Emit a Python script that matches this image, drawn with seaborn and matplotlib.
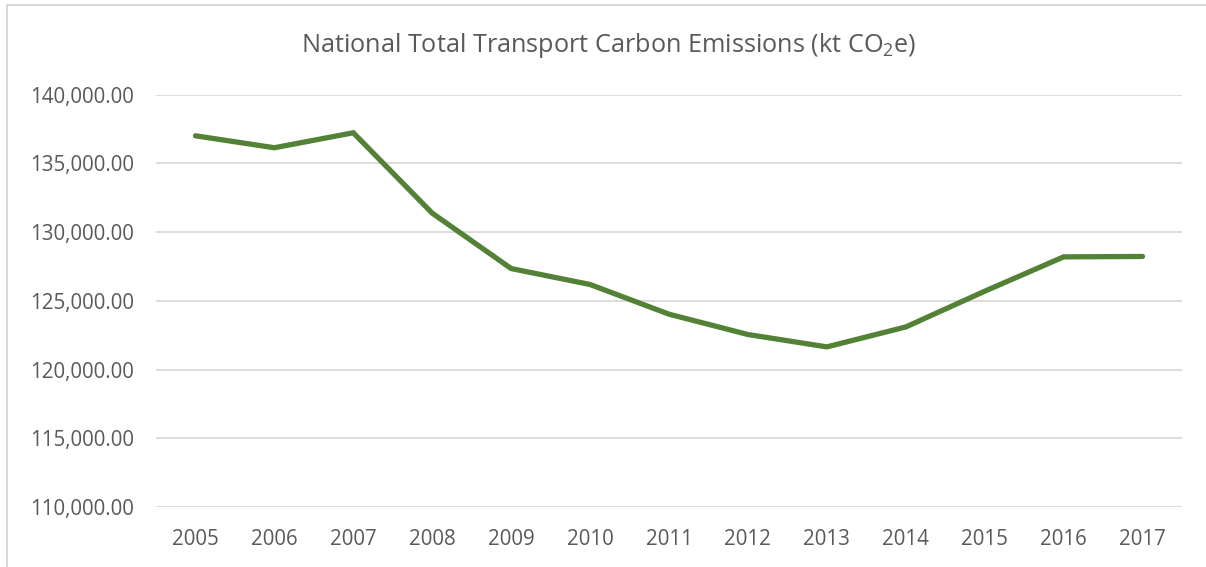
import matplotlib
matplotlib.use("Agg")
import matplotlib.pyplot as plt
import seaborn as sns
import pandas as pd
from matplotlib.ticker import FuncFormatter
from matplotlib.lines import Line2D

years = ["2005", "2006", "2007", "2008", "2009", "2010", "2011",
         "2012", "2013", "2014", "2015", "2016", "2017"]
emissions = [137010, 136140, 137230, 131380, 127350, 126190, 124030,
             122550, 121650, 123100, 125700, 128200, 128230]
y_ticks = [110000, 115000, 120000, 125000, 130000, 135000, 140000]
title = "National Total Transport Carbon Emissions (kt CO$_2$e)"

sns.set_theme(style="white")
plt.rcParams['font.family'] = ['Open Sans', 'DejaVu Sans']
plt.rcParams['mathtext.fontset'] = 'custom'
plt.rcParams['mathtext.rm'] = 'Open Sans'

df = pd.DataFrame({"year": years, "value": emissions})

W, H = 1206, 567
fig = plt.figure(figsize=(W / 100, H / 100), dpi=100)
ax = fig.add_axes([156 / W, 1 - 507 / H, (1182 - 156) / W, (507 - 94.7) / H])

sns.lineplot(data=df, x="year", y="value", ax=ax, color="#538135",
             linewidth=3.8, sort=False, solid_capstyle="round",
             solid_joinstyle="miter")

ax.set_xlim(-0.5, len(years) - 0.5)
ax.set_ylim(110000, 140000)
ax.set_yticks(y_ticks)
ax.yaxis.set_major_formatter(FuncFormatter(lambda v, p: f"{v:,.2f}"))
ax.grid(axis="y", color="#d9d9d9", linewidth=1.3)
ax.grid(axis="x", visible=False)
ax.set_axisbelow(True)
for s in ax.spines.values():
    s.set_visible(False)
ax.set_xlabel("")
ax.set_ylabel("")
ax.tick_params(axis="both", length=0, labelsize=14.8, colors="#595959")
ax.tick_params(axis="y", pad=16)
ax.tick_params(axis="x", pad=16)

fig.text(609 / W, 1 - 45 / H, title, ha="center", va="center",
         fontsize=18.2, color="#595959")

fig.add_artist(Line2D([7 / W, 1], [1 - 5 / H, 1 - 5 / H], transform=fig.transFigure,
                      color="#d9d9d9", linewidth=1.5))
fig.add_artist(Line2D([7 / W, 7 / W], [0, 1 - 5 / H], transform=fig.transFigure,
                      color="#d9d9d9", linewidth=1.5))

fig.savefig("out.png", dpi=100, facecolor="white")
